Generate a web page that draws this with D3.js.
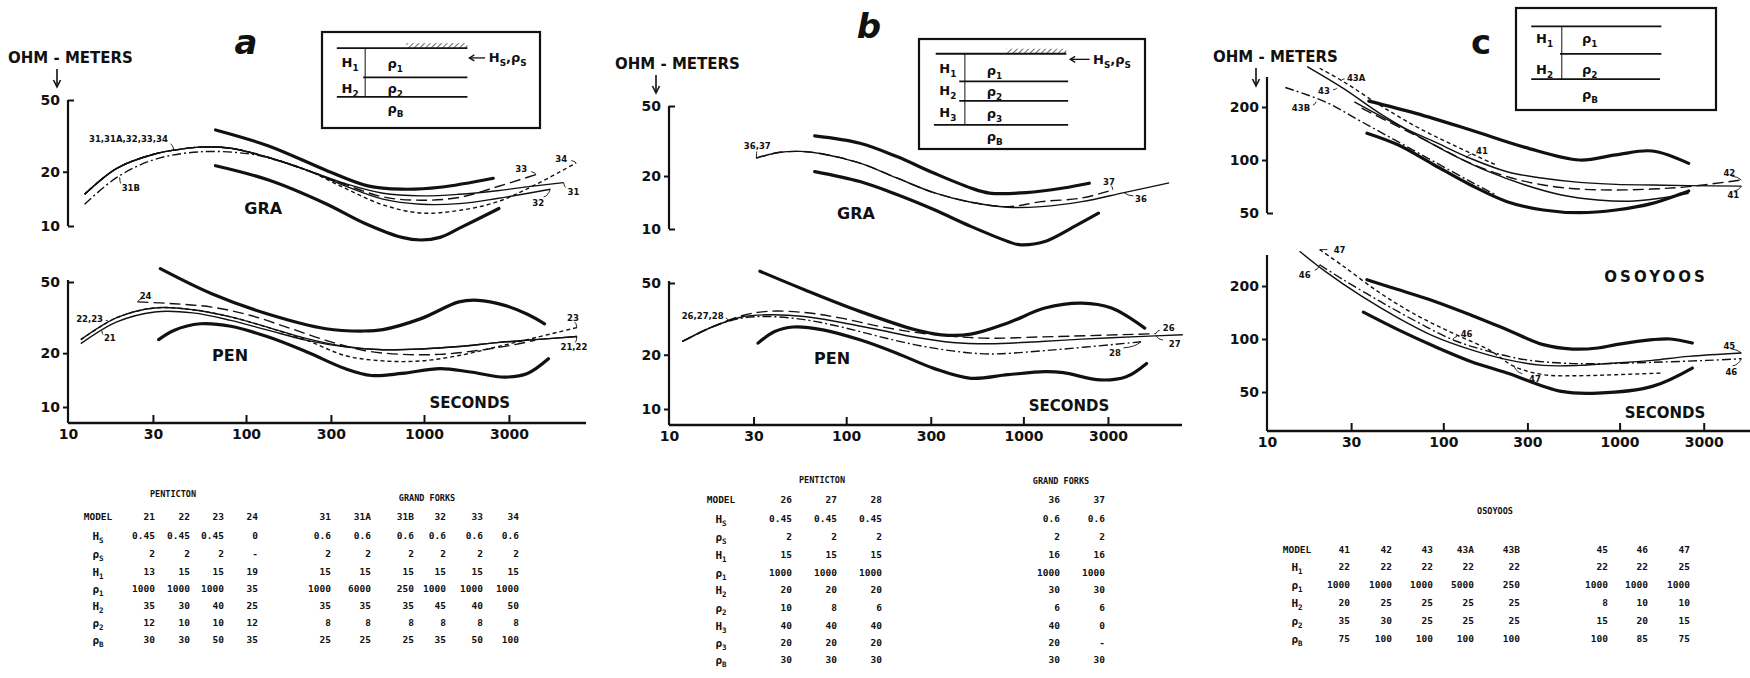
<!DOCTYPE html>
<html>
<head>
<meta charset="utf-8">
<script src="https://cdn.jsdelivr.net/npm/d3@7"></script>
<style>
  body { margin: 0; background: #fff; }
  text { font-family: "DejaVu Sans", sans-serif; font-weight: bold; fill: #111; }
  .tbl text { font-family: "DejaVu Sans Mono", monospace; font-size: 9.5px; }
  .small { font-size: 8.5px; }
</style>
</head>
<body>
<svg id="chart" width="1750" height="678"></svg>
<script>
// ---- model curves, [period s, apparent resistivity ohm-m]

// a : GRA (Grand Forks), two-layer models
const graEnvHighA = [[67.5,34.1],[134,27.8],[281,20.4],[483,16.7],[752,16.0],[1230,16.4],[2448,18.4]];
const graEnvLowA  = [[67.5,21.6],[134,18.0],[281,13.3],[460,10.4],[752,8.65],[962,8.36],[1230,8.65],[1573,9.7],[2636,12.5]];
const graCommonA  = [[12.4,15.0],[18.8,20.9],[30.7,25.1],[43.3,26.7],[55.4,27.4],[82.1,27.0],[134,24.0],[220,20.4]];
const gra31  = graCommonA.concat([[360,17.2],[588,15.2],[962,14.7],[1573,15.0],[2570,15.7],[4206,16.7],[6085,17.4]]);
const gra32  = graCommonA.concat([[360,16.7],[588,14.1],[962,13.2],[1573,13.3],[2570,14.2],[5120,16.0]]);
const gra33  = graCommonA.concat([[360,17.0],[588,14.5],[962,13.9],[1573,14.4],[2570,16.5],[4266,19.3]]);
const gra34  = graCommonA.concat([[360,16.2],[588,13.1],[962,11.8],[1573,12.2],[2570,13.6],[4206,16.9],[7160,22.4]]);
const gra31B = [[12.4,13.2],[18.8,18.6],[30.7,23.4],[55.4,25.8],[105,25.1],[148,23.2],[220,20.3],[360,17.0]];

// a : PEN (Penticton)
const penEnvHighA = [[33.0,59.4],[64.2,43.0],[134,33.0],[281,27.4],[460,26.6],[588,27.1],[962,31.2],[1573,38.7],[2009,39.5],[2839,37.0],[3811,33.0],[4756,29.2]];
const penEnvLowA  = [[32.3,23.8],[39.3,26.8],[55.4,29.2],[82.1,28.3],[134,24.6],[220,20.3],[360,16.4],[507,15.0],[752,15.4],[1230,16.4],[1824,15.7],[2839,14.7],[3811,15.4],[5000,18.6]];
const pen22 = [[11.8,23.8],[18.8,31.6],[30.7,35.8],[50.2,35.0],[82.1,31.9],[134,27.8],[220,24.1],[360,21.8],[588,20.9],[962,21.1],[1573,21.8],[2570,22.9],[4206,23.8],[7230,24.8]];
const pen21 = [[11.8,22.6],[18.8,29.9],[30.7,34.0],[50.2,33.6],[82.1,30.5],[134,26.8],[220,23.6],[360,21.7],[588,20.9],[962,21.1],[1573,21.8],[2570,22.9],[4206,23.8],[7230,24.8]];
const pen23 = [[11.8,23.8],[18.8,31.6],[30.7,35.8],[50.2,35.0],[82.1,31.9],[134,27.8],[220,23.6],[360,19.4],[588,18.1],[962,18.1],[1573,19.4],[2570,21.7],[4206,24.4],[7230,27.8]];
const pen24 = [[24.6,38.7],[39.3,37.8],[64.2,36.2],[105,32.6],[172,27.8],[281,23.6],[460,20.7],[752,19.7],[1230,19.7],[2009,20.7],[3289,22.4],[4206,23.6]];

// b : GRA, three-layer models
const graEnvHighB = [[66.4,33.8],[119.5,30.7],[193,25.8],[312,20.8],[505,17.1],[643,16.0],[1039,16.1],[1681,17.1],[2353,18.2]];
const graEnvLowB  = [[66.4,21.2],[119.5,18.6],[193,15.7],[312,12.9],[505,10.35],[817,8.5],[944,8.15],[1322,8.5],[1942,10.35],[2654,12.3]];
const gra36 = [[31.1,25.3],[41.5,27.2],[55.4,27.6],[73.9,26.7],[119.5,23.7],[193,19.5],[312,16.1],[505,14.2],[817,13.3],[1260,13.4],[2137,14.3],[3697,16.1],[6645,18.3]];
const gra37 = [[31.1,25.3],[41.5,27.2],[55.4,27.6],[73.9,26.7],[119.5,23.7],[193,19.5],[312,16.1],[505,14.2],[817,13.4],[1260,14.3],[2137,15.0],[3201,16.7]];

// b : PEN
const penEnvHighB = [[32.6,58.1],[58.1,45.9],[119.5,34.8],[246,27.5],[344,25.8],[505,26.0],[817,30.0],[1322,36.3],[2137,38.7],[3140,36.3],[4838,28.1]];
const penEnvLowB  = [[31.8,23.2],[39.5,26.9],[50.3,28.5],[73.9,27.5],[119.5,24.2],[193,20.4],[312,16.8],[505,14.8],[817,15.5],[1322,16.1],[1681,15.9],[2718,14.5],[3806,15.1],[4958,17.9]];
const pen27 = [[11.9,23.7],[17.5,28.5],[25.7,32.4],[35.9,33.3],[58.1,32.6],[94.0,30.2],[152,27.5],[246,25.0],[397,23.4],[643,23.0],[1260,23.7],[2137,24.4],[4395,25.2],[7940,25.8]];
const pen26 = [[11.9,23.7],[17.5,28.5],[25.7,32.9],[35.9,34.8],[58.1,34.3],[94.0,31.9],[152,28.8],[246,26.6],[397,25.3],[643,24.7],[1260,25.1],[5052,26.1],[5591,26.2]];
const pen28 = [[11.9,23.7],[17.5,28.5],[25.7,31.9],[35.9,32.6],[58.1,31.3],[94.0,28.5],[152,25.3],[246,22.7],[397,21.0],[643,20.2],[1260,21.0],[4613,23.6]];

// c : OSOYOOS, upper group
const osoEnvHighTop = [[37.8,216],[70.0,184],[143,148],[291,118],[593,100],[954,107],[1533,112.5],[2465,95.7]];
const osoEnvLowTop  = [[36.9,142],[55.3,122],[88.8,93.7],[143,72.1],[230,58.0],[369,52.0],[593,50.2],[954,52.0],[1533,56.7],[2465,66.7]];
const oso41  = [[31.3,214],[55.3,158],[88.8,127],[143,102],[230,85.8],[369,78.7],[593,74.6],[954,72.7],[1533,72.1],[2465,71.5],[4907,71.1]];
const oso42  = [[34.4,197],[55.3,155],[88.8,122],[143,95.7],[230,80.4],[369,72.1],[593,68.4],[954,67.6],[1533,68.4],[2465,70.6],[4907,77.0]];
const oso43  = [[16.9,339],[27.1,255],[43.6,184],[70.0,139],[113,107],[181,85.8],[291,72.1],[468,63.3],[752,59.3],[1209,58.5],[1944,61.9],[2465,64.7]];
const oso43A = [[19.9,332],[27.1,279],[43.6,205],[70.0,155],[113,122],[199,93.7]];
const oso43B = [[12.7,258],[21.4,214],[34.4,165],[55.3,127],[88.8,97.8],[143,75.3],[199,63.3]];

// c : OSOYOOS, lower group
const osoEnvHighBot = [[36.9,217],[55.3,191],[88.8,164],[143,137],[230,113],[369,92.9],[540,87.7],[752,88.9],[954,92.9],[1533,99.1],[1944,100],[2585,94.9]];
const osoEnvLowBot  = [[35.2,142],[55.3,113],[88.8,90.9],[143,74.6],[230,64.1],[468,50.4],[752,49.3],[1533,53.8],[2585,68.4]];
const oso45 = [[15.3,315],[21.4,242],[34.4,175],[55.3,132],[88.8,103.5],[143,87.0],[230,76.3],[369,70.8],[593,70.8],[954,73.0],[1533,75.6],[2465,79.7],[4907,83.3]];
const oso46 = [[19.9,264],[27.1,217],[43.6,164],[70.0,126],[113,99.1],[181,85.1],[291,76.3],[468,73.0],[752,72.4],[1533,73.7],[3125,75.6],[4907,77.3]];
const oso47 = [[19.9,322],[27.1,259],[43.6,183],[70.0,137],[113,108],[181,87.0],[252,69.9],[369,62.7],[593,61.9],[954,62.7],[1768,64.1]];

// ---- axis ticks
const periodTicks = [10, 30, 100, 300, 1000, 3000];
const rhoTicksAB = [10, 20, 50];
const rhoTicksC = [50, 100, 200];

// ---- model parameter tables
const rowsA = [['MODEL',''],['H','S'],['ρ','S'],['H','1'],['ρ','1'],['H','2'],['ρ','2'],['ρ','B']];
const rowsB = [['MODEL',''],['H','S'],['ρ','S'],['H','1'],['ρ','1'],['H','2'],['ρ','2'],['H','3'],['ρ','3'],['ρ','B']];
const rowsC = [['MODEL',''],['H','1'],['ρ','1'],['H','2'],['ρ','2'],['ρ','B']];
const pentictonA  = [['21','0.45','2','13','1000','35','12','30'],['22','0.45','2','15','1000','30','10','30'],['23','0.45','2','15','1000','40','10','50'],['24','0','-','19','35','25','12','35']];
const grandForksA = [['31','0.6','2','15','1000','35','8','25'],['31A','0.6','2','15','6000','35','8','25'],['31B','0.6','2','15','250','35','8','25'],['32','0.6','2','15','1000','45','8','35'],['33','0.6','2','15','1000','40','8','50'],['34','0.6','2','15','1000','50','8','100']];
const pentictonB  = [['26','0.45','2','15','1000','20','10','40','20','30'],['27','0.45','2','15','1000','20','8','40','20','30'],['28','0.45','2','15','1000','20','6','40','20','30']];
const grandForksB = [['36','0.6','2','16','1000','30','6','40','20','30'],['37','0.6','2','16','1000','30','6','0','-','30']];
const osoyoos4x   = [['41','22','1000','20','35','75'],['42','22','1000','25','30','100'],['43','22','1000','25','25','100'],['43A','22','5000','25','25','100'],['43B','22','250','25','25','100']];
const osoyoos4y   = [['45','22','1000','8','15','100'],['46','22','1000','10','20','85'],['47','25','1000','10','15','75']];

// ---------------------------------------------------------------
const svg = d3.select('#chart');
const ink = '#111';

const defs = svg.append('defs');
const pat = defs.append('pattern').attr('id','hatch').attr('width',4).attr('height',4)
  .attr('patternUnits','userSpaceOnUse').attr('patternTransform','rotate(45)');
pat.append('line').attr('x1',0).attr('y1',0).attr('x2',0).attr('y2',4).attr('stroke',ink).attr('stroke-width',1.3);

function makeX(x0, dec) { return d3.scaleLog().domain([10, 10000]).range([x0, x0 + 3 * dec]); }
const xA = makeX(68, 178), xB = makeX(669, 177.2), xC = makeX(1267, 176.3);
const yAt = d3.scaleLog().domain([10, 50]).range([226, 100]);
const yAb = d3.scaleLog().domain([10, 50]).range([407, 282]);
const yBt = d3.scaleLog().domain([10, 50]).range([229, 106]);
const yBb = d3.scaleLog().domain([10, 50]).range([409, 283]);
const yCt = d3.scaleLog().domain([50, 200]).range([213, 107]);
const yCb = d3.scaleLog().domain([50, 200]).range([392, 286]);

const styles = {
  env:  { w: 3.2, dash: null },
  solid:{ w: 1.4, dash: null },
  long: { w: 1.4, dash: '11,5' },
  dash: { w: 1.4, dash: '7,4' },
  short:{ w: 1.4, dash: '4,3' },
  dot:  { w: 1.4, dash: '9,3,2,3' }
};

function drawCurves(x, y, curves) {
  const gen = d3.line().x(d => x(d[0])).y(d => y(d[1])).curve(d3.curveCatmullRom.alpha(0.5));
  const g = svg.append('g');
  curves.forEach(c => {
    g.append('path').datum(c.data).attr('d', gen)
      .attr('fill', 'none').attr('stroke', ink)
      .attr('stroke-width', styles[c.s].w)
      .attr('stroke-dasharray', styles[c.s].dash)
      .attr('stroke-linecap', c.s === 'env' ? 'round' : 'butt');
  });
}

function yAxis(x0, y, ticks, corners, top, bottom) {
  svg.append('line').attr('x1', x0).attr('x2', x0).attr('y1', top).attr('y2', bottom)
    .attr('stroke', ink).attr('stroke-width', 2.2);
  const ax = svg.append('g').attr('transform', `translate(${x0},0)`)
    .call(d3.axisLeft(y).tickValues(ticks).tickSize(5).tickPadding(3).tickFormat(d3.format('d')))
    .attr('font-size', 14);
  ax.select('.domain').remove();
  ax.selectAll('.tick line').attr('x2', d => corners.includes(d) ? 6 : -5)
    .attr('stroke', ink).attr('stroke-width', 2);
}

function xAxis(x, yPos, xEnd) {
  svg.append('line').attr('x1', x(10)).attr('x2', xEnd).attr('y1', yPos).attr('y2', yPos)
    .attr('stroke', ink).attr('stroke-width', 2.4);
  const ax = svg.append('g').attr('transform', `translate(0,${yPos})`)
    .call(d3.axisBottom(x).tickValues(periodTicks).tickSize(-8).tickPadding(6).tickFormat(d3.format('d')))
    .attr('font-size', 14);
  ax.select('.domain').remove();
  ax.selectAll('.tick line').attr('stroke', ink).attr('stroke-width', 2)
    .filter(d => d === 10).remove();
}

function annotate(x, y, list) {
  const g = svg.append('g');
  list.forEach(n => {
    const px = x(n.p), py = y(n.r);
    g.append('path').attr('d', `M${px},${py} q${n.dx * 0.2},${n.dy * 0.5} ${n.dx * 0.55},${n.dy * 0.55}`)
      .attr('fill', 'none').attr('stroke', ink).attr('stroke-width', 0.9);
    g.append('text').attr('class', 'small').attr('x', px + n.dx).attr('y', py + n.dy)
      .attr('dy', '0.35em').attr('text-anchor', n.a).text(n.t);
  });
}

function word(x, y, p, r, t, size, spacing) {
  svg.append('text').attr('x', x(p)).attr('y', y(r)).attr('dy', '0.35em')
    .attr('text-anchor', 'middle').attr('font-size', size)
    .attr('letter-spacing', spacing || 0).text(t);
}

function ohmLabel(x, y, ax) {
  svg.append('text').attr('x', x).attr('y', y).attr('dy', '0.35em').attr('font-size', 15).text('OHM - METERS');
  svg.append('line').attr('x1', ax).attr('x2', ax).attr('y1', y + 11).attr('y2', y + 27)
    .attr('stroke', ink).attr('stroke-width', 1.6);
  svg.append('path').attr('d', `M${ax - 3.5},${y + 22} L${ax},${y + 29} L${ax + 3.5},${y + 22}`)
    .attr('fill', 'none').attr('stroke', ink).attr('stroke-width', 1.6);
}

function sub(sel, main, s, size) {
  sel.append('tspan').text(main);
  if (s) sel.append('tspan').attr('font-size', size * 0.68).attr('dy', size * 0.3).text(s);
}

// inset layer sketch; geometry in fractions of the box
function inset(box, lines, vert, labels, surface) {
  const g = svg.append('g').attr('transform', `translate(${box.x},${box.y})`);
  g.append('rect').attr('width', box.w).attr('height', box.h).attr('fill', 'none')
    .attr('stroke', ink).attr('stroke-width', 2.2);
  lines.forEach(l => g.append('line').attr('x1', l[1] * box.w).attr('x2', l[2] * box.w)
    .attr('y1', l[0] * box.h).attr('y2', l[0] * box.h).attr('stroke', ink).attr('stroke-width', 1.8));
  g.append('line').attr('x1', vert[0] * box.w).attr('x2', vert[0] * box.w)
    .attr('y1', vert[1] * box.h).attr('y2', vert[2] * box.h).attr('stroke', ink).attr('stroke-width', 1);
  labels.forEach(l => {
    const t = g.append('text').attr('x', l[2] * box.w).attr('y', l[3] * box.h).attr('dy', '0.35em').attr('font-size', 13);
    sub(t, l[0], l[1], 13);
  });
  if (surface) {
    const y0 = lines[0][0] * box.h;
    g.append('rect').attr('x', surface[0] * box.w).attr('y', y0 - 5)
      .attr('width', (surface[1] - surface[0]) * box.w).attr('height', 5).attr('fill', 'url(#hatch)');
    const ya = surface[2] * box.h;
    g.append('line').attr('x1', surface[3] * box.w).attr('x2', surface[4] * box.w)
      .attr('y1', ya).attr('y2', ya).attr('stroke', ink).attr('stroke-width', 1.3);
    g.append('path').attr('d', `M${surface[3] * box.w + 5},${ya - 3} L${surface[3] * box.w},${ya} L${surface[3] * box.w + 5},${ya + 3}`)
      .attr('fill', 'none').attr('stroke', ink).attr('stroke-width', 1.3);
    const t = g.append('text').attr('x', surface[5] * box.w).attr('y', ya).attr('dy', '0.35em').attr('font-size', 13);
    sub(t, 'H', 'S', 13);
    t.append('tspan').attr('dy', -13 * 0.3).text(',ρ');
    t.append('tspan').attr('font-size', 13 * 0.68).attr('dy', 13 * 0.3).text('S');
  }
}

function table(title, ty, rows, rowY, labelX, groups) {
  const g = svg.append('g').attr('class', 'tbl');
  title.forEach(t => g.append('text').attr('x', t[1]).attr('y', ty[t[2]]).attr('text-anchor', 'middle')
    .style('font-size', '8.5px').text(t[0]));
  rows.forEach((r, i) => {
    const t = g.append('text').attr('x', labelX).attr('y', rowY[i]).attr('dy', '0.35em').attr('text-anchor', 'middle');
    if (r[1]) { sub(t, r[0], r[1], 11); t.style('font-size', '11px'); }
    else t.text(r[0]);
  });
  groups.forEach(gr => {
    gr.models.forEach((m, j) => {
      m.forEach((v, i) => {
        g.append('text').attr('x', gr.right[j]).attr('y', rowY[i]).attr('dy', '0.35em')
          .attr('text-anchor', 'end').text(v);
      });
    });
  });
}

// ---- panel a
ohmLabel(8, 58, 57);
svg.append('text').attr('x', 246).attr('y', 42).attr('dy', '0.35em').attr('text-anchor', 'middle')
  .attr('font-size', 34).attr('font-style', 'italic').text('a');
yAxis(xA(10), yAt, rhoTicksAB, [10, 50], 100, 226);
yAxis(xA(10), yAb, rhoTicksAB, [50], 280, 423);
xAxis(xA, 423, 586);
drawCurves(xA, yAt, [
  { data: graEnvHighA, s: 'env' }, { data: graEnvLowA, s: 'env' },
  { data: gra34, s: 'short' }, { data: gra33, s: 'long' }, { data: gra31B, s: 'dot' },
  { data: gra32, s: 'solid' }, { data: gra31, s: 'solid' }
]);
drawCurves(xA, yAb, [
  { data: penEnvHighA, s: 'env' }, { data: penEnvLowA, s: 'env' },
  { data: pen23, s: 'short' }, { data: pen24, s: 'long' },
  { data: pen21, s: 'solid' }, { data: pen22, s: 'solid' }
]);
annotate(xA, yAt, [
  { t: '31,31A,32,33,34', p: 39.3, r: 26.6, dx: -6, dy: -10, a: 'end' },
  { t: '31B', p: 19.5, r: 18.6, dx: 2, dy: 11, a: 'start' },
  { t: '33', p: 4266, r: 19.3, dx: -9, dy: -5, a: 'end' },
  { t: '34', p: 7160, r: 22.4, dx: -9, dy: -4, a: 'end' },
  { t: '31', p: 6085, r: 17.4, dx: 4, dy: 9, a: 'start' },
  { t: '32', p: 5120, r: 16.0, dx: -12, dy: 14, a: 'middle' }
]);
annotate(xA, yAb, [
  { t: '24', p: 24.6, r: 38.7, dx: 8, dy: -6, a: 'middle' },
  { t: '22,23', p: 17.0, r: 29.9, dx: -6, dy: -3, a: 'end' },
  { t: '21', p: 15.5, r: 26.7, dx: 2, dy: 7, a: 'start' },
  { t: '23', p: 7230, r: 27.8, dx: -4, dy: -10, a: 'middle' },
  { t: '21,22', p: 7230, r: 24.8, dx: -3, dy: 11, a: 'middle' }
]);
word(xA, yAt, 125, 12.6, 'GRA', 16);
word(xA, yAb, 81.3, 19.5, 'PEN', 16);
word(xA, yAb, 1810, 10.5, 'SECONDS', 15);
inset({ x: 322, y: 32, w: 218, h: 96 },
  [[0.168, 0.068, 0.667], [0.472, 0.189, 0.667], [0.675, 0.068, 0.667]],
  [0.198, 0.168, 0.675],
  [['H', '1', 0.09, 0.32], ['ρ', '1', 0.3, 0.33], ['H', '2', 0.09, 0.585], ['ρ', '2', 0.3, 0.59], ['ρ', 'B', 0.3, 0.8]],
  [0.387, 0.667, 0.27, 0.676, 0.748, 0.765]);

// ---- panel b
ohmLabel(615, 64, 656);
svg.append('text').attr('x', 869).attr('y', 26).attr('dy', '0.35em').attr('text-anchor', 'middle')
  .attr('font-size', 34).attr('font-style', 'italic').text('b');
yAxis(xB(10), yBt, rhoTicksAB, [10, 50], 106, 229);
yAxis(xB(10), yBb, rhoTicksAB, [50], 281, 425);
xAxis(xB, 425, 1182);
drawCurves(xB, yBt, [
  { data: graEnvHighB, s: 'env' }, { data: graEnvLowB, s: 'env' },
  { data: gra37, s: 'long' }, { data: gra36, s: 'solid' }
]);
drawCurves(xB, yBb, [
  { data: penEnvHighB, s: 'env' }, { data: penEnvLowB, s: 'env' },
  { data: pen26, s: 'long' }, { data: pen28, s: 'dot' }, { data: pen27, s: 'solid' }
]);
annotate(xB, yBt, [
  { t: '36,37', p: 31.1, r: 25.3, dx: 1, dy: -12, a: 'middle' },
  { t: '37', p: 3201, r: 16.7, dx: -4, dy: -8, a: 'middle' },
  { t: '36', p: 3697, r: 16.1, dx: 17, dy: 6, a: 'middle' }
]);
annotate(xB, yBb, [
  { t: '26,27,28', p: 21.7, r: 30.8, dx: -5, dy: -5, a: 'end' },
  { t: '26', p: 5591, r: 26.2, dx: 7, dy: -6, a: 'start' },
  { t: '27', p: 5591, r: 25.5, dx: 13, dy: 8, a: 'start' },
  { t: '28', p: 4613, r: 23.6, dx: -32, dy: 11, a: 'start' }
]);
word(xB, yBt, 113.6, 12.3, 'GRA', 16);
word(xB, yBb, 83.2, 19.2, 'PEN', 16);
word(xB, yBb, 1810, 10.4, 'SECONDS', 15);
inset({ x: 919, y: 39, w: 226, h: 110 },
  [[0.134, 0.074, 0.652], [0.386, 0.178, 0.66], [0.562, 0.178, 0.66], [0.781, 0.066, 0.66]],
  [0.203, 0.134, 0.781],
  [['H', '1', 0.09, 0.27], ['ρ', '1', 0.3, 0.285], ['H', '2', 0.09, 0.47], ['ρ', '2', 0.3, 0.48],
   ['H', '3', 0.09, 0.665], ['ρ', '3', 0.3, 0.675], ['ρ', 'B', 0.3, 0.89]],
  [0.386, 0.652, 0.185, 0.669, 0.755, 0.77]);

// ---- panel c
ohmLabel(1213, 57, 1256);
svg.append('text').attr('x', 1481).attr('y', 42).attr('dy', '0.35em').attr('text-anchor', 'middle')
  .attr('font-size', 34).text('c');
yAxis(xC(10), yCt, rhoTicksC, [50], 77, 213);
yAxis(xC(10), yCb, rhoTicksC, [], 255, 431);
xAxis(xC, 431, 1750);
drawCurves(xC, yCt, [
  { data: osoEnvHighTop, s: 'env' }, { data: osoEnvLowTop, s: 'env' },
  { data: oso43B, s: 'dot' }, { data: oso43A, s: 'short' }, { data: oso42, s: 'long' },
  { data: oso43, s: 'solid' }, { data: oso41, s: 'solid' }
]);
drawCurves(xC, yCb, [
  { data: osoEnvHighBot, s: 'env' }, { data: osoEnvLowBot, s: 'env' },
  { data: oso47, s: 'short' }, { data: oso46, s: 'dot' }, { data: oso45, s: 'solid' }
]);
annotate(xC, yCt, [
  { t: '43A', p: 26.6, r: 285, dx: 5, dy: -2, a: 'start' },
  { t: '43', p: 24.9, r: 256, dx: -7, dy: 3, a: 'end' },
  { t: '43B', p: 19.0, r: 214, dx: -6, dy: 6, a: 'end' },
  { t: '41', p: 134.5, r: 102.6, dx: 10, dy: -7, a: 'start' },
  { t: '42', p: 4907, r: 77.0, dx: -18, dy: -7, a: 'start' },
  { t: '41', p: 4907, r: 71.1, dx: -14, dy: 9, a: 'start' }
]);
annotate(xC, yCb, [
  { t: '47', p: 19.9, r: 322, dx: 14, dy: 0, a: 'start' },
  { t: '46', p: 19.9, r: 264, dx: -9, dy: 10, a: 'end' },
  { t: '46', p: 113, r: 99.1, dx: 8, dy: -6, a: 'start' },
  { t: '47', p: 252, r: 69.9, dx: 15, dy: 13, a: 'start' },
  { t: '45', p: 4907, r: 83.3, dx: -18, dy: -7, a: 'start' },
  { t: '46', p: 4907, r: 77.3, dx: -16, dy: 13, a: 'start' }
]);
word(xC, yCb, 1610, 226, 'OSOYOOS', 15, 3);
word(xC, yCb, 1810, 38.1, 'SECONDS', 15);
inset({ x: 1516, y: 8, w: 200, h: 102 },
  [[0.18, 0.076, 0.727], [0.449, 0.22, 0.727], [0.698, 0.076, 0.72]],
  [0.229, 0.18, 0.698],
  [['H', '1', 0.1, 0.3], ['ρ', '1', 0.33, 0.3], ['H', '2', 0.1, 0.6], ['ρ', '2', 0.33, 0.6], ['ρ', 'B', 0.33, 0.85]],
  null);

// ---- tables
table([['PENTICTON', 173, 0], ['GRAND FORKS', 427, 1]], [497, 501], rowsA,
  [517, 536, 554, 572, 589, 606, 623, 640], 98,
  [{ models: pentictonA, right: [155, 190, 224, 258] },
   { models: grandForksA, right: [331, 371, 414, 446, 483, 519] }]);
table([['PENTICTON', 822, 0], ['GRAND FORKS', 1061, 1]], [483, 484], rowsB,
  [500, 519, 537, 555, 573, 590, 608, 626, 643, 660], 721,
  [{ models: pentictonB, right: [792, 837, 882] },
   { models: grandForksB, right: [1060, 1105] }]);
table([['OSOYOOS', 1495, 0]], [514], rowsC,
  [550, 567, 585, 603, 621, 639], 1297,
  [{ models: osoyoos4x, right: [1350, 1392, 1433, 1474, 1520] },
   { models: osoyoos4y, right: [1608, 1648, 1690] }]);
</script>
</body>
</html>
